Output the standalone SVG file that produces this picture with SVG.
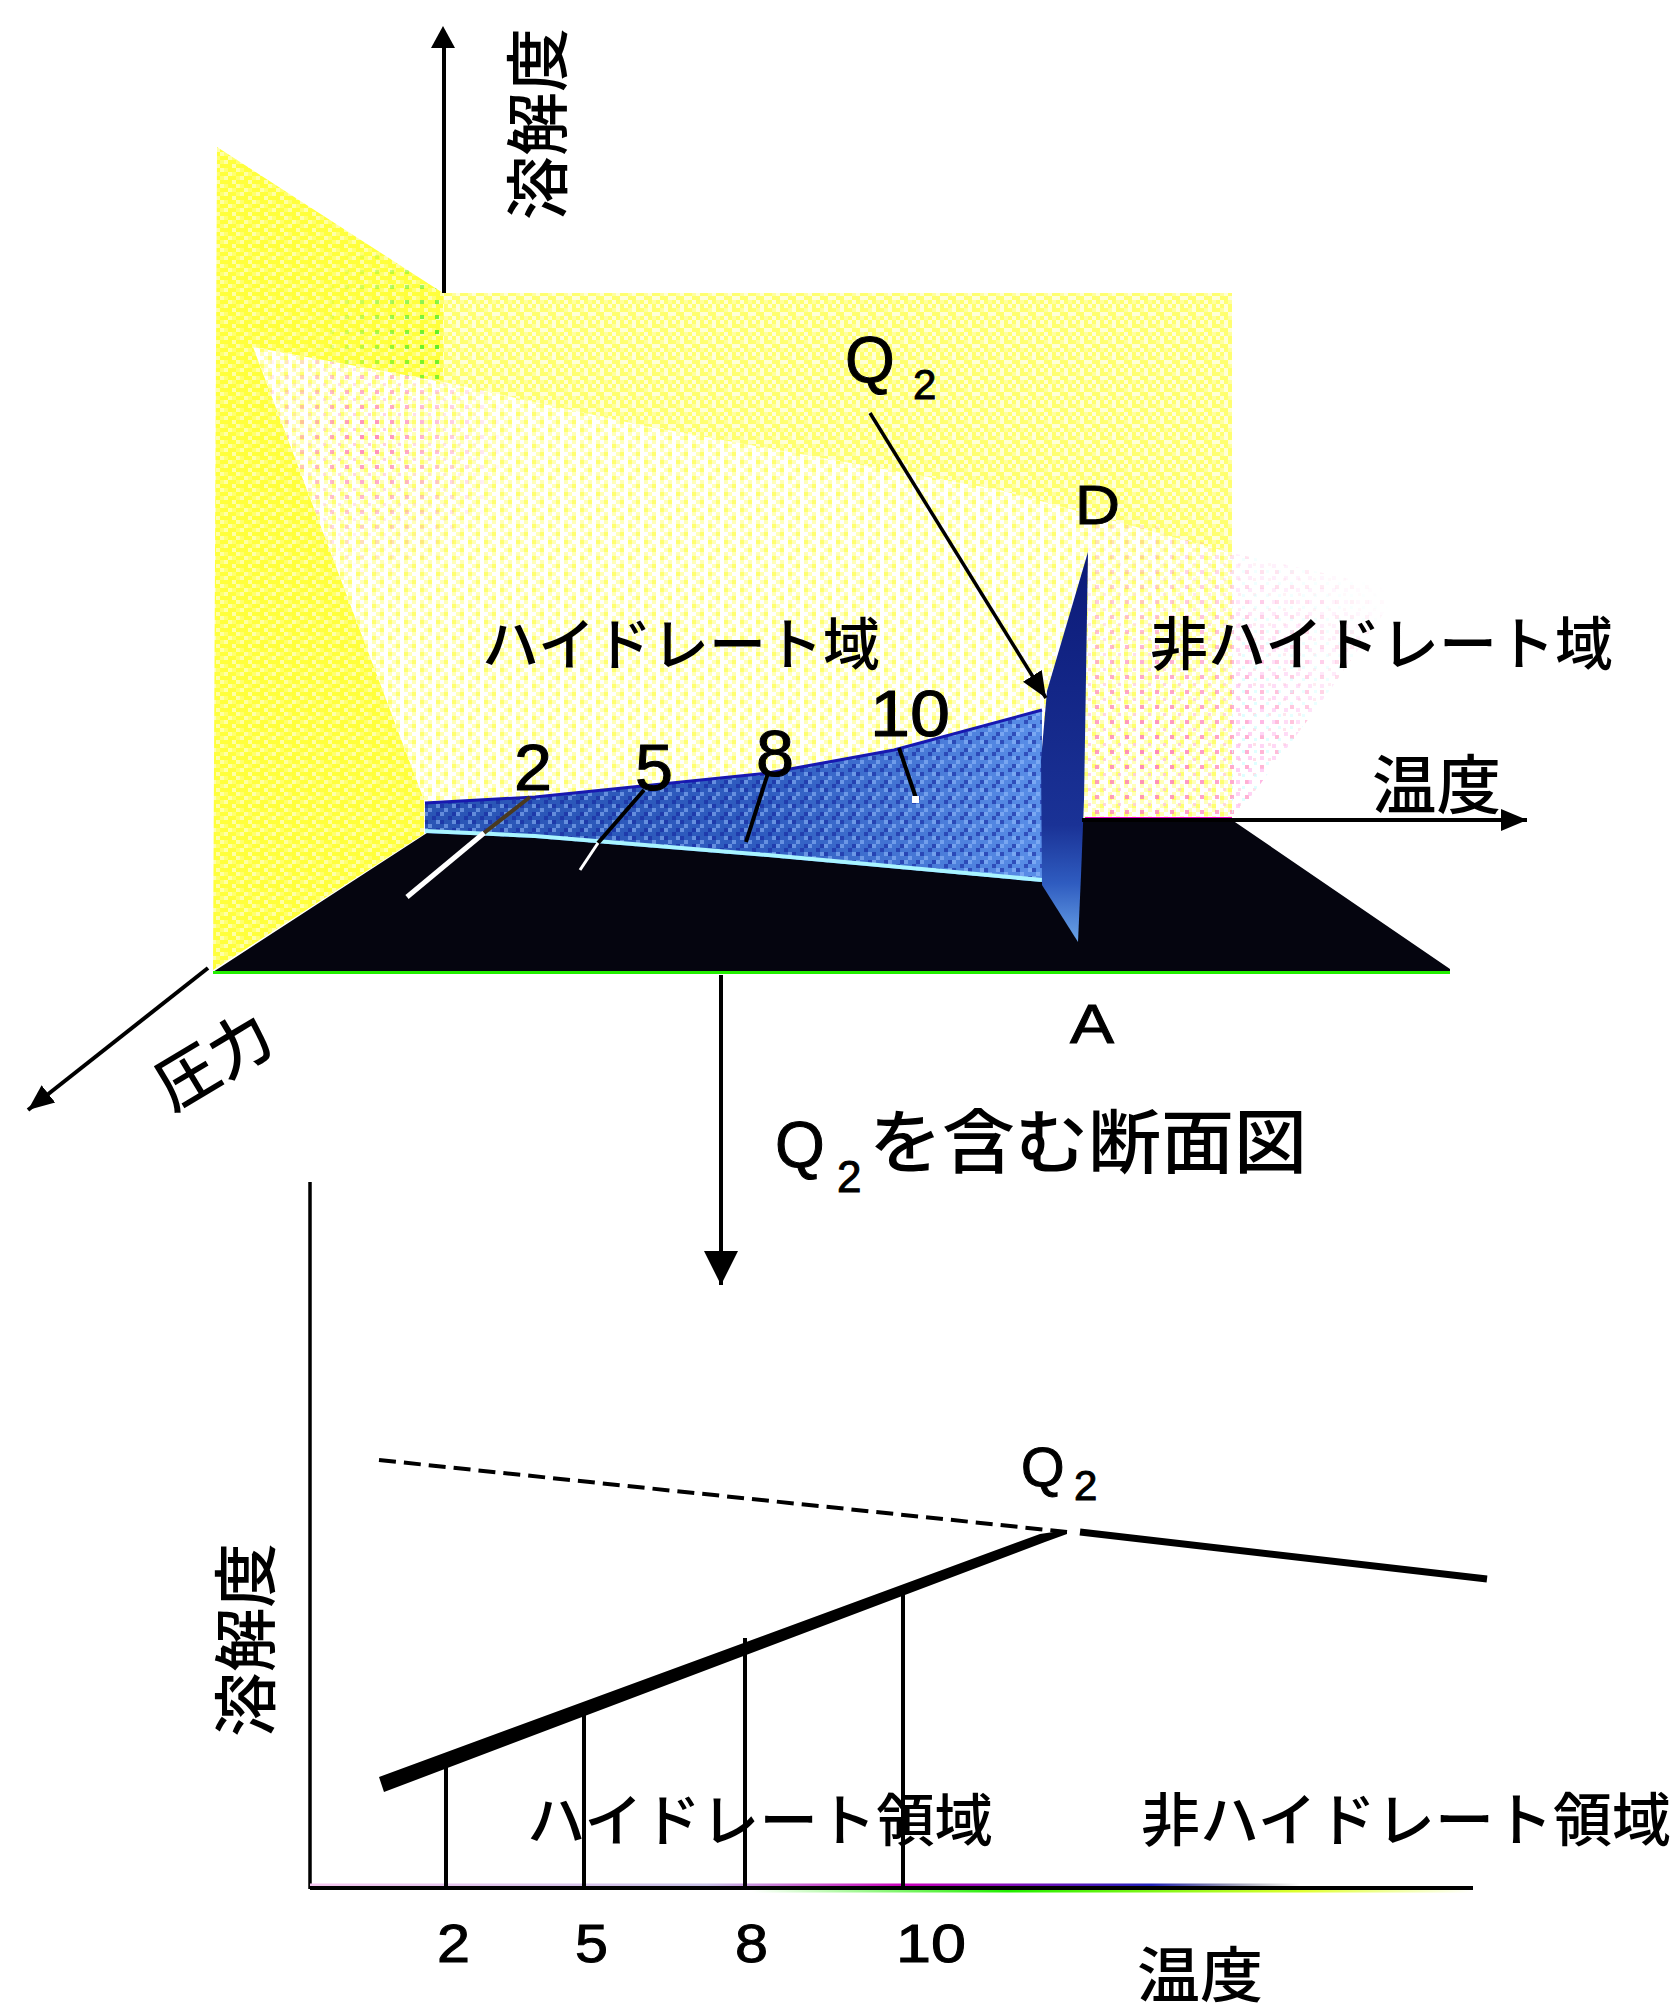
<svg xmlns="http://www.w3.org/2000/svg" width="1676" height="2015" viewBox="0 0 1676 2015">
<style>
.j{font-family:"Noto Sans CJK JP","Noto Sans CJK SC",sans-serif;fill:#000;font-weight:500}
.l{font-family:"Liberation Sans",Arial,sans-serif;fill:#000;stroke:#000;stroke-width:1}
.ax{stroke:#000;stroke-width:4;fill:none}
.tk{stroke:#000;stroke-width:4;fill:none}
</style>
<defs>
<pattern id="dy1" width="16" height="16" patternUnits="userSpaceOnUse"><rect width="16" height="16" fill="#ffff3c"/><path d="M0 0h4v4H0zM8 4h4v4H8zM4 12h4v4H4zM12 8h4v4h-4z" fill="#ffffa8"/><path d="M8 12h4v4H8zM0 8h4v4H0zM12 0h4v4h-4z" fill="#ffff70"/></pattern>
<pattern id="dy2" width="16" height="16" patternUnits="userSpaceOnUse"><rect width="16" height="16" fill="#ffff70"/><path d="M0 0h4v4H0zM8 4h4v4H8zM4 12h4v4H4zM12 8h4v4h-4zM8 0h4v4H8zM0 8h4v4H0z" fill="#ffffd8"/><path d="M4 4h4v4H4zM12 12h4v4h-4z" fill="#ffffa0"/></pattern>
<pattern id="dy3" width="16" height="16" patternUnits="userSpaceOnUse"><rect width="16" height="16" fill="#ffffb8"/><path d="M0 0h4v16H0zM8 0h4v4H8zM8 8h4v4H8zM4 4h4v4H4zM12 12h4v4h-4z" fill="#fff"/><path d="M4 12h4v4H4zM12 4h4v4h-4z" fill="#ffff70"/></pattern>
<pattern id="dg" width="15" height="15" patternUnits="userSpaceOnUse"><rect width="4" height="4" fill="#55ee22"/></pattern>
<pattern id="dp" width="15" height="15" patternUnits="userSpaceOnUse"><rect width="4" height="4" fill="#ff88bb"/><rect x="8" y="8" width="3" height="3" fill="#ffccdd"/></pattern>
<pattern id="dq" width="12" height="12" patternUnits="userSpaceOnUse"><rect width="4" height="4" fill="#ffbbee"/><rect x="6" y="6" width="3" height="3" fill="#ccffff"/></pattern>
<pattern id="db" width="16" height="16" patternUnits="userSpaceOnUse"><path d="M0 0h4v4H0zM8 4h4v4H8zM4 12h4v4H4z" fill="#1626a0" opacity=".6"/><path d="M12 8h4v4h-4zM4 4h4v4H4zM8 12h4v4H8z" fill="#9cc4ff" opacity=".5"/></pattern>
<radialGradient id="rg1" cx="443" cy="340" r="130" gradientUnits="userSpaceOnUse"><stop offset="0" stop-color="#fff"/><stop offset="1" stop-color="#000"/></radialGradient>
<radialGradient id="rg2" cx="370" cy="440" r="140" gradientUnits="userSpaceOnUse"><stop offset="0" stop-color="#fff"/><stop offset="1" stop-color="#000"/></radialGradient>
<radialGradient id="rg3" cx="1150" cy="760" r="290" gradientUnits="userSpaceOnUse"><stop offset="0" stop-color="#fff"/><stop offset="1" stop-color="#000"/></radialGradient>
<mask id="m1" maskUnits="userSpaceOnUse" x="0" y="0" width="1676" height="2015"><rect width="1676" height="2015" fill="url(#rg1)"/></mask>
<mask id="m2" maskUnits="userSpaceOnUse" x="0" y="0" width="1676" height="2015"><rect width="1676" height="2015" fill="url(#rg2)"/></mask>
<mask id="m3" maskUnits="userSpaceOnUse" x="0" y="0" width="1676" height="2015"><rect width="1676" height="2015" fill="url(#rg3)"/></mask>
<linearGradient id="gb" x1="425" y1="0" x2="1042" y2="0" gradientUnits="userSpaceOnUse"><stop offset="0" stop-color="#2a55b5"/><stop offset=".55" stop-color="#2f5cc0"/><stop offset="1" stop-color="#5a8fe8"/></linearGradient>
<linearGradient id="gf" x1="0" y1="552" x2="0" y2="942" gradientUnits="userSpaceOnUse"><stop offset="0" stop-color="#0c1a78"/><stop offset=".7" stop-color="#1a3296"/><stop offset=".85" stop-color="#2f5cc0"/><stop offset="1" stop-color="#6aa4e8"/></linearGradient>
<linearGradient id="gax" x1="310" y1="0" x2="1473" y2="0" gradientUnits="userSpaceOnUse"><stop offset="0" stop-color="#fff"/><stop offset=".38" stop-color="#fff"/><stop offset=".6" stop-color="#22ee00"/><stop offset=".85" stop-color="#dfff30"/><stop offset="1" stop-color="#fff"/></linearGradient>
<linearGradient id="gax2" x1="310" y1="0" x2="1300" y2="0" gradientUnits="userSpaceOnUse"><stop offset="0" stop-color="#f6c6f0"/><stop offset=".4" stop-color="#c8c0e8"/><stop offset=".6" stop-color="#cc00bb"/><stop offset=".85" stop-color="#2222bb"/><stop offset="1" stop-color="#222" stop-opacity="0"/></linearGradient>
<marker id="ah" markerUnits="userSpaceOnUse" markerWidth="28" markerHeight="24" refX="26" refY="12" orient="auto"><path d="M0 1L26 12L0 23Z" fill="#000"/></marker>
<marker id="ahb" markerUnits="userSpaceOnUse" markerWidth="36" markerHeight="36" refX="34" refY="17" orient="auto"><path d="M0 0L34 17L0 34Z" fill="#000"/></marker>
</defs>

<g id="surfaces">
<rect id="back-wall" x="443" y="293" width="789" height="530" fill="url(#dy2)"/>
<polygon id="plane" points="253,347 443,382 640,425 1000,490 1232,553 1232,822 424,822 424,800" fill="url(#dy3)"/>
<polygon points="253,347 443,382 640,425 560,700 424,800" fill="url(#dp)" mask="url(#m2)"/>
<polygon points="1085,500 1232,553 1400,590 1330,690 1232,822 1085,822" fill="url(#dp)" mask="url(#m3)"/>
<polygon points="1232,553 1400,590 1330,690 1232,822" fill="url(#dq)" mask="url(#m3)"/>
<polygon id="left-wall" points="217,147 443,293 443,382 253,347 424,800 424,834 213,970" fill="url(#dy1)"/>
<polygon points="300,200 443,293 443,382 300,356" fill="url(#dg)" mask="url(#m1)"/>
<polygon id="floor" points="213,972 430,831 1060,831 1079,820 1232,820 1450,969 1450,972" fill="#05050f"/>
<rect x="213" y="971" width="1237" height="3" fill="#22ee00"/>
<rect x="1085" y="817" width="147" height="2" fill="#ee00cc"/>
<polygon id="wedge" points="425,803 535,797 768,773 894,750 1042,710 1042,882 768,857 535,838 425,833" fill="url(#gb)"/>
<polygon points="425,803 535,797 768,773 894,750 1042,710 1042,882 768,857 535,838 425,833" fill="url(#db)"/>
<polyline points="425,831 535,836 768,855 1042,880" fill="none" stroke="#a8f4ff" stroke-width="4"/>
<polyline points="425,803 535,797 768,773 894,750 1042,710" fill="none" stroke="#1818b0" stroke-width="3"/>
<polygon id="fin" points="1088,552 1084,800 1081,875 1078,942 1042,885 1041,760 1047,691" fill="url(#gf)"/>
</g>

<g id="connectors">
<line class="ax" x1="444" y1="293" x2="444" y2="45"/>
<path d="M443 26L455 48H431Z" fill="#000"/>
<line class="ax" x1="1082" y1="820" x2="1527" y2="820" marker-end="url(#ah)"/>
<line class="ax" x1="208" y1="968" x2="28" y2="1110" marker-end="url(#ah)"/>
<line x1="870" y1="413" x2="1046" y2="698" stroke="#000" stroke-width="3.5" marker-end="url(#ah)"/>
<line class="ax" x1="721" y1="975" x2="721" y2="1285" marker-end="url(#ahb)"/>
<line x1="530" y1="797" x2="484" y2="833" stroke="#4a3a20" stroke-width="4"/>
<line x1="484" y1="833" x2="407" y2="897" stroke="#fff" stroke-width="5"/>
<line x1="644" y1="790" x2="598" y2="843" stroke="#000" stroke-width="4"/>
<line x1="598" y1="843" x2="580" y2="870" stroke="#fff" stroke-width="3"/>
<line x1="768" y1="773" x2="746" y2="842" stroke="#000" stroke-width="4"/>
<line x1="899" y1="748" x2="916" y2="798" stroke="#000" stroke-width="4"/>
<rect x="912" y="796" width="7" height="7" fill="#fff"/>
<line x1="310" y1="1182" x2="310" y2="1889" stroke="#000" stroke-width="3.5"/>
<line x1="310" y1="1885" x2="1300" y2="1885" stroke="url(#gax2)" stroke-width="3"/>
<line x1="310" y1="1891" x2="1473" y2="1891" stroke="url(#gax)" stroke-width="3"/>
<line x1="310" y1="1888" x2="1473" y2="1888" stroke="#000" stroke-width="4"/>
<line class="tk" x1="446" y1="1767" x2="446" y2="1888"/>
<line class="tk" x1="584" y1="1703" x2="584" y2="1888"/>
<line class="tk" x1="745" y1="1638" x2="745" y2="1888"/>
<line class="tk" x1="903" y1="1591" x2="903" y2="1888"/>
<polygon points="379,1777 1040,1534 1067,1530 1067,1534 1045,1542 384,1792" fill="#000"/>
<line x1="379" y1="1460" x2="1067" y2="1532" stroke="#000" stroke-width="4" stroke-dasharray="17 8"/>
<line x1="1080" y1="1532" x2="1487" y2="1579" stroke="#000" stroke-width="7"/>
</g>

<g id="labels">
<text class="j" font-size="64" textLength="192" lengthAdjust="spacingAndGlyphs" transform="translate(561 220) rotate(-90)">溶解度</text>
<text class="j" font-size="64" textLength="194" lengthAdjust="spacingAndGlyphs" transform="translate(269 1737) rotate(-90)">溶解度</text>
<g id="label-q2"><text class="l" x="845" y="382" font-size="64">Q</text><text class="l" x="913" y="399" font-size="42">2</text></g>
<text class="l" x="1075" y="524" font-size="56" textLength="45" lengthAdjust="spacingAndGlyphs">D</text>
<text class="j" x="482" y="665" font-size="57" textLength="398" lengthAdjust="spacingAndGlyphs">ハイドレート域</text>
<text class="j" x="1150" y="665" font-size="58" textLength="463" lengthAdjust="spacingAndGlyphs">非ハイドレート域</text>
<text class="l" x="514" y="790" font-size="64" textLength="38" lengthAdjust="spacingAndGlyphs">2</text>
<text class="l" x="635" y="790" font-size="64" textLength="38" lengthAdjust="spacingAndGlyphs">5</text>
<text class="l" x="756" y="776" font-size="64" textLength="38" lengthAdjust="spacingAndGlyphs">8</text>
<text class="l" x="870" y="736" font-size="64" textLength="80" lengthAdjust="spacingAndGlyphs">10</text>
<text class="j" x="1372" y="808" font-size="64" textLength="129" lengthAdjust="spacingAndGlyphs">温度</text>
<text class="j" font-size="62" transform="translate(172 1112) rotate(-31)">圧力</text>
<text class="l" x="1070" y="1043" font-size="56" textLength="44" lengthAdjust="spacingAndGlyphs">A</text>
<g id="label-section"><text class="l" x="775" y="1167" font-size="64">Q</text><text class="l" x="837" y="1192" font-size="44">2</text><text class="j" x="869" y="1168" font-size="70" textLength="438" lengthAdjust="spacingAndGlyphs">を含む断面図</text></g>
<g id="label-q2b"><text class="l" x="1021" y="1486" font-size="56">Q</text><text class="l" x="1074" y="1500" font-size="42">2</text></g>
<text class="j" x="527" y="1841" font-size="57" textLength="466" lengthAdjust="spacingAndGlyphs">ハイドレート領域</text>
<text class="j" x="1141" y="1841" font-size="58" textLength="530" lengthAdjust="spacingAndGlyphs">非ハイドレート領域</text>
<text class="l" x="437" y="1962" font-size="54" textLength="33" lengthAdjust="spacingAndGlyphs">2</text>
<text class="l" x="575" y="1962" font-size="54" textLength="33" lengthAdjust="spacingAndGlyphs">5</text>
<text class="l" x="735" y="1962" font-size="54" textLength="33" lengthAdjust="spacingAndGlyphs">8</text>
<text class="l" x="896" y="1962" font-size="54" textLength="70" lengthAdjust="spacingAndGlyphs">10</text>
<text class="j" x="1137" y="1997" font-size="60" textLength="126" lengthAdjust="spacingAndGlyphs">温度</text>
</g>
</svg>
